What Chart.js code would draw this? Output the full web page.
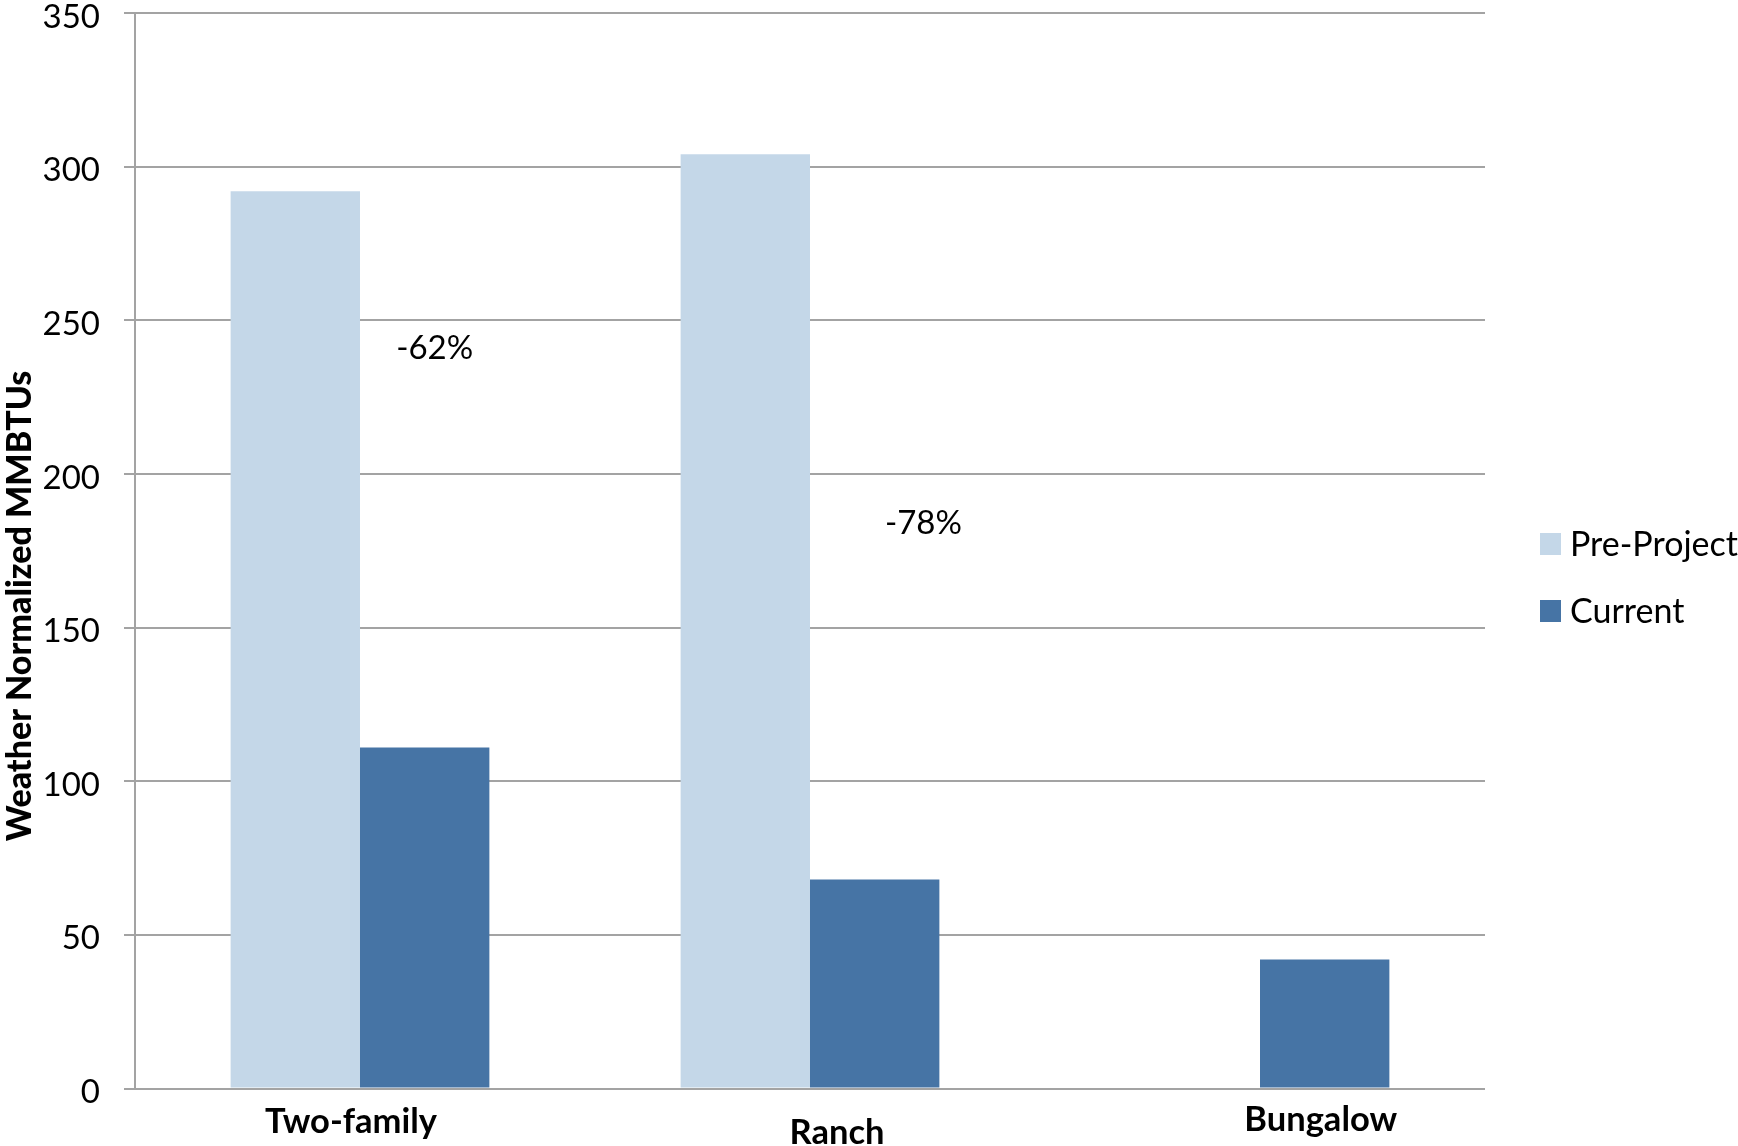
<!DOCTYPE html>
<html>
<head>
<meta charset="utf-8">
<script src="https://cdn.jsdelivr.net/npm/chart.js@4.4.1/dist/chart.umd.min.js"></script>
<style>
   html, body { margin: 0; padding: 0; background: #fff; }
   canvas { display: block; }
</style>
</head>
<body>
<canvas id="myChart" width="1738" height="1146"></canvas>
<script>
const categories = ['Two-family', 'Ranch', 'Bungalow'];
const preProject = [292, 304, null];
const current = [111, 68, 42];
const yTicks = [0, 50, 100, 150, 200, 250, 300, 350];
const changeLabels = ['-62%', '-78%'];
const seriesNames = ['Pre-Project', 'Current'];
const seriesColors = ['#C4D7E8', '#4674A5'];

const gridColor = '#A3A3A3';
const fontFamily = 'Lato, "Open Sans", sans-serif';

// where the percent notes sit, in category / value units
const notePlaces = [[0.166, 241], [1.252, 184]];
// small nudges of the category names, in category units and px baseline
const catShift = [-0.02, 0.06, 0.135];
const catBase = [1133, 1144, 1131];

const extrasPlugin = {
   id: 'extras',
   afterDraw(chart) {
      const ctx = chart.ctx;
      const x = chart.scales.x;
      const y = chart.scales.y;
      const area = chart.chartArea;
      ctx.save();
      ctx.fillStyle = '#000';

      // category names
      ctx.font = `bold 34.5px ${fontFamily}`;
      ctx.textAlign = 'center';
      ctx.textBaseline = 'alphabetic';
      categories.forEach((c, i) => {
         ctx.fillText(c, x.getPixelForValue(i + catShift[i]), catBase[i]);
      });

      // percent change notes
      ctx.font = `33px ${fontFamily}`;
      ctx.textBaseline = 'middle';
      changeLabels.forEach((t, i) => {
         ctx.fillText(t, x.getPixelForValue(notePlaces[i][0]), y.getPixelForValue(notePlaces[i][1]));
      });

      // y axis title
      ctx.save();
      ctx.translate(20, 606);
      ctx.rotate(-Math.PI / 2);
      ctx.font = `900 34px ${fontFamily}`;
      ctx.textAlign = 'center';
      ctx.textBaseline = 'middle';
      ctx.fillText('Weather Normalized MMBTUs', 0, 0);
      ctx.restore();

      // legend
      ctx.font = `34px ${fontFamily}`;
      ctx.textAlign = 'left';
      ctx.textBaseline = 'middle';
      const lx = area.right + 55;
      seriesNames.forEach((name, i) => {
         const cy = 544 + i * 67;
         ctx.fillStyle = seriesColors[i];
         ctx.fillRect(lx, cy - 11, 21, 22);
         ctx.fillStyle = '#000';
         ctx.fillText(name, lx + 30, cy + 1);
      });
      ctx.restore();
   }
};

const data = {
   labels: categories,
   datasets: [{
      label: seriesNames[0],
      data: preProject,
      backgroundColor: seriesColors[0],
      borderWidth: 0
   }, {
      label: seriesNames[1],
      data: current,
      backgroundColor: seriesColors[1],
      borderWidth: 0
   }]
};

const config = {
   type: 'bar',
   data: data,
   options: {
      responsive: false,
      animation: false,
      devicePixelRatio: 1,
      categoryPercentage: 0.575,
      barPercentage: 1,
      layout: { padding: { left: 0, top: 13, right: 253, bottom: 0 } },
      plugins: {
         legend: { display: false },
         tooltip: { enabled: false }
      },
      scales: {
         x: {
            grid: { display: false },
            border: { display: false },
            ticks: { display: false },
            afterFit: (s) => { s.height = 57.5; s.paddingLeft = 0; s.paddingRight = 0; }
         },
         y: {
            min: 0,
            max: 350,
            afterBuildTicks: (s) => { s.ticks = yTicks.map(v => ({ value: v })); },
            grid: { color: gridColor, lineWidth: 2, tickLength: 11, drawTicks: true },
            border: { display: true, color: gridColor, width: 2 },
            ticks: {
               color: '#000',
               padding: 24,
               labelOffset: 4,
               font: { family: fontFamily, size: 33 }
            },
            afterFit: (s) => { s.width = 135; s.paddingTop = 0; s.paddingBottom = 0; }
         }
      }
   },
   plugins: [extrasPlugin]
};

const ctx = document.getElementById('myChart').getContext('2d');
const myChart = new Chart(ctx, config);
</script>
</body>
</html>
